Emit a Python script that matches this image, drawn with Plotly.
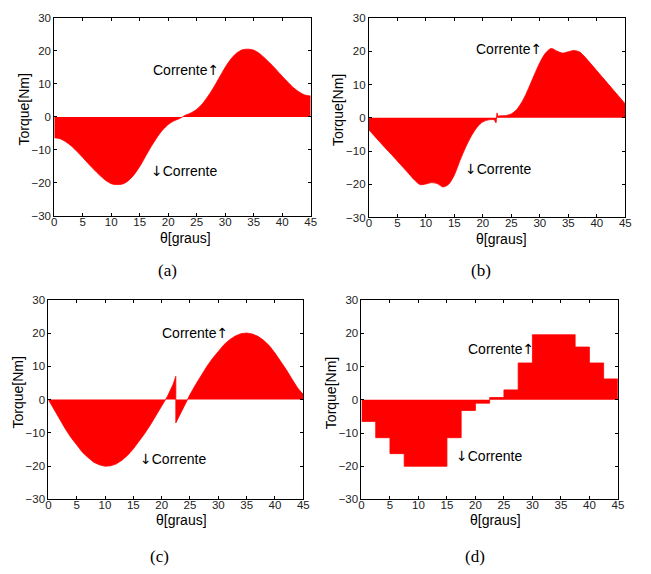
import plotly.graph_objects as go

# ---------------- data ----------------
theta_a = list(range(0, 46))
torque_a = [-6.3, -6.6, -7.5, -8.8, -10.5, -12.3, -14.2, -16.0, -17.7, -19.2,
            -20.2, -20.5, -20.3, -19.3, -17.5, -15.0, -12.0, -9.0, -6.3, -4.0,
            -2.3, -1.2, -0.5, 0.5, 1.2, 2.3, 4.0, 6.3, 9.0, 12.0,
            15.0, 17.5, 19.3, 20.3, 20.5, 20.2, 19.2, 17.7, 16.0, 14.2,
            12.3, 10.5, 8.8, 7.5, 6.6, 6.3]

theta_b = list(range(0, 23)) + [22.3, 22.5, 22.7] + list(range(23, 46))
torque_b = [-3.6, -5.5, -7.4, -9.3, -11.1, -13.0, -14.9, -16.8, -18.7, -20.1,
            -19.9, -19.5, -19.8, -20.8, -20.0, -17.2, -12.8, -8.8, -5.4, -2.8,
            -1.2, -0.6, -0.6, -1.5, 1.5, 0.5,
            0.6, 0.7, 1.2, 2.6, 5.2, 8.8, 12.8, 16.6, 19.5, 20.9,
            20.1, 19.5, 19.9, 20.3, 19.8, 18.2, 16.2, 14.2, 12.2, 10.2,
            8.2, 6.2, 4.2]

theta_c = list(range(0, 23)) + [22.5, 22.5] + list(range(23, 46))
torque_c = [0.0, -3.0, -6.0, -8.8, -11.4, -13.7, -15.8, -17.4, -18.8, -19.6,
            -20.0, -19.9, -19.3, -18.2, -16.7, -14.8, -12.6, -10.2, -7.6, -4.9,
            -2.1, 0.9, 4.5, 7.0, -7.0,
            -5.2, -1.8, 1.5, 4.5, 7.4, 10.0, 12.4, 14.6, 16.5, 18.0,
            19.1, 19.8, 20.0, 19.7, 19.0, 17.8, 16.2, 14.0, 11.6, 9.0,
            6.2, 3.5, 1.5]

step_start_d = [0, 2.5, 5, 7.5, 15, 17.5, 20, 22.5, 25, 27.5, 30, 37.5, 40, 42.5, 45]
step_torque_d = [-6.5, -11.4, -16.2, -20.0, -11.4, -3.2, -1.0, 0.7, 3.0, 11.1,
                 19.6, 15.9, 11.1, 6.3, 6.3]

x_ticks = [0, 5, 10, 15, 20, 25, 30, 35, 40, 45]
y_ticks = [-30, -20, -10, 0, 10, 20, 30]
captions = ["(a)", "(b)", "(c)", "(d)"]
x_title = "θ[graus]"
y_title = "Torque[Nm]"

W, H = 651, 574
RED = "#ff0000"
SANS = "Liberation Sans, Arial"
ARROW = '<span style="font-family:DejaVu Sans">{}</span>'

# plot area pixel boxes: (left, right, top, bottom)
boxes = [(52, 312, 12, 214.5), (371, 631, 12.5, 216),
         (46, 304.5, 300, 504), (363.5, 623.5, 300.5, 504)]
# axis-title pixel centres: (x-title x, x-title y, y-title x, y-title y)
title_px = [(185, 237, 21, 106), (505, 238, 339, 106),
            (181, 525, 15, 395), (499, 525, 332, 395)]

fig = go.Figure()

series = [(theta_a, torque_a, "spline"), (theta_b, torque_b, "spline"),
          (theta_c, torque_c, "linear"), (step_start_d, step_torque_d, "hv")]

for i, (xs, ys, shape) in enumerate(series):
    n = "" if i == 0 else str(i + 1)
    line = dict(color=RED, width=0.8, shape=shape)
    if shape == "spline":
        line["smoothing"] = 0.8
    fig.add_trace(go.Scatter(x=xs, y=ys, mode="lines", fill="tozeroy",
                             fillcolor=RED, line=line, showlegend=False,
                             xaxis="x" + n, yaxis="y" + n))
    l, r, t, b = boxes[i]
    axcommon = dict(showline=True, linecolor="black", linewidth=1, mirror="ticks",
                    ticks="inside", ticklen=3, tickcolor="black", showgrid=False,
                    zeroline=False, ticklabelposition="outside",
                    tickfont=dict(family=SANS, size=11.5, color="#222"))
    fig.update_layout(**{
        "xaxis" + n: dict(domain=[l / W, r / W], range=[0, 45], tickvals=x_ticks,
                          anchor="y" + n, ticklabelstandoff=-5, **axcommon),
        "yaxis" + n: dict(domain=[1 - b / H, 1 - t / H], range=[-30, 30], tickvals=y_ticks,
                          anchor="x" + n, ticklabelstandoff=0, **axcommon),
    })
    xtx, xty, ytx, yty = title_px[i]
    fig.add_annotation(x=xtx / W, y=1 - xty / H, xref="paper", yref="paper", text=x_title,
                       showarrow=False, xanchor="center", yanchor="middle",
                       font=dict(family=SANS, size=14, color="black"))
    fig.add_annotation(x=ytx / W, y=1 - yty / H, xref="paper", yref="paper", text=y_title,
                       showarrow=False, xanchor="center", yanchor="middle", textangle=-90,
                       font=dict(family=SANS, size=14, color="black"))

# annotations (data coords)
ann_pos = [((17.0, 14.3), (16.6, -16.3)),
           ((18.4, 20.7), (16.6, -15.5)),
           ((19.7, 19.9), (15.9, -17.7)),
           ((18.3, 15.2), (16.3, -17.0))]
for i, (up, down) in enumerate(ann_pos):
    n = "" if i == 0 else str(i + 1)
    for (xx, yy), txt in [(up, "Corrente" + ARROW.format("↑")),
                          (down, ARROW.format("↓") + "Corrente")]:
        fig.add_annotation(x=xx, y=yy, xref="x" + n, yref="y" + n, text=txt,
                           showarrow=False, xanchor="left", yanchor="middle",
                           font=dict(family=SANS, size=14, color="black"))

cap_pos = [(167, 270), (485, 270), (159, 562), (479, 562)]
for (cx, cy), txt in zip(cap_pos, captions):
    fig.add_annotation(x=cx / W, y=1 - cy / H, xref="paper", yref="paper", text=txt,
                       showarrow=False, xanchor="center", yanchor="middle",
                       font=dict(family="Liberation Serif, Times New Roman", size=17, color="black"))

fig.update_layout(width=W, height=H, margin=dict(l=0, r=0, t=0, b=0),
                  plot_bgcolor="white", paper_bgcolor="white")

fig.write_html("out.html")
